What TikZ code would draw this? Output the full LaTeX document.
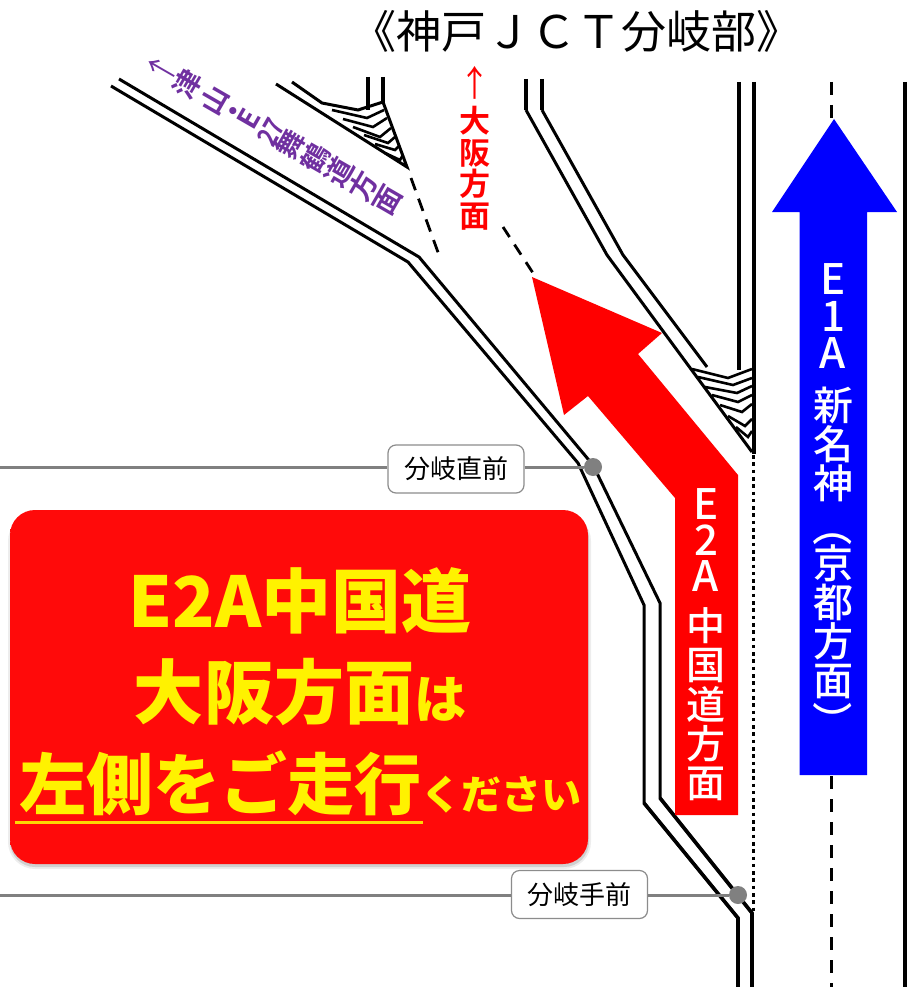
\documentclass[tikz,border=0pt]{standalone}
\usepackage{fontspec}
\usepackage{graphicx}
\newfontfamily\jp{Noto Sans CJK JP}[BoldFont={Noto Sans CJK JP Bold}]
\newfontfamily\jpmed{Noto Sans CJK JP Medium}
\newfontfamily\jpblack{Noto Sans CJK JP Black}
\newcommand{\latin}[1]{{\fontsize{42}{40}\selectfont #1}}
\definecolor{signred}{HTML}{FF0A0A}
\definecolor{purpletxt}{HTML}{7030A0}
\definecolor{gline}{HTML}{808080}
\pgfdeclareverticalshading{signshade}{100bp}{color(0bp)=(signred!75!black); color(2bp)=(signred!90!black); color(4bp)=(signred); color(94bp)=(signred); color(97bp)=(signred!88!white); color(100bp)=(signred!70!white)}
\tikzset{
  road/.style={draw=black,line width=3pt,miter limit=10},
  roadv/.style={draw=black,line width=4pt},
  chev/.style={draw=black,line width=2.6pt},
  lane/.style={draw=black,line width=3pt,dash pattern=on 13pt off 10pt},
  dotlane/.style={draw=black,line width=3.6pt,dash pattern=on 3.6pt off 3.7pt},
  leader/.style={draw=gline,line width=3pt},
  dot/.style={circle,fill=gline,minimum size=18pt,inner sep=0pt},
  tag/.style={draw=black!45,line width=1.2pt,rounded corners=8pt,fill=white,minimum width=136pt,minimum height=48pt,inner sep=0pt,font=\jp\fontsize{26}{28}\selectfont},
  stack/.style={align=center,inner sep=0pt},
}
\begin{document}
\begin{tikzpicture}[x=1pt,y=-1pt]
\useasboundingbox (0,0) rectangle (916,987);
\fill[white] (0,0) rectangle (916,987);

% title
\node[inner sep=0pt,font=\jp\fontsize{45}{48}\selectfont] (title) at (576,31) {《神戸ＪＣＴ分岐部》};

% left road
\coordinate (la1) at (111,86); \coordinate (la2) at (408,262); \coordinate (la3) at (578,463); \coordinate (la4) at (644,605); \coordinate (la5) at (644,803); \coordinate (la6) at (738,918); \coordinate (la7) at (738,987);
\coordinate (lb1) at (119,79); \coordinate (lb2) at (419,257); \coordinate (lb3) at (593,465); \coordinate (lb4) at (660,603); \coordinate (lb5) at (660,798); \coordinate (lb6) at (752,913); \coordinate (lb7) at (752,987);
\draw[road] (la1)--(la2)--(la3)--(la4)--(la5)--(la6);
\draw[road] (lb1)--(lb2)--(lb3)--(lb4)--(lb5)--(lb6);
\draw[road,line width=3.6pt] (la5)--(la6)--(la7);
\draw[road,line width=3.6pt] (lb5)--(lb6)--(lb7);

% upper-left gore
\coordinate (g1) at (276,84); \coordinate (g2) at (407,167); \coordinate (g3) at (292,82); \coordinate (g4) at (322,103); \coordinate (g5) at (358,110); \coordinate (g6) at (383,102);
\draw[road] (g1)--(g2)--(g6);
\draw[road] (g3)--(g4)--(g5)--(g6);
\draw[roadv] (368,77)--(368,110);
\draw[roadv] (383,77)--(383,104);
\draw[chev] (332,110)--(367,118)--(384,110);
\draw[chev] (343,119)--(373,127)--(387,118);
\draw[chev] (353,127)--(380,137)--(391,128);
\draw[chev] (364,135)--(388,143)--(395,137);
\draw[chev] (375,144)--(395,150)--(399,146);
\draw[chev] (385,153)--(400,160)--(403,155);

% dashed gore lines
\coordinate (d1) at (411,178); \coordinate (d2) at (439,255);
\coordinate (d3) at (503,227); \coordinate (d4) at (533,273);
\draw[lane,line width=2.8pt,dash pattern=on 13pt off 9pt] (d1)--(d2);
\draw[lane,line width=2.8pt,dash pattern=on 12pt off 9pt] (d3)--(d4);

% upper-right road
\coordinate (r1) at (526,79); \coordinate (r2) at (526,110); \coordinate (r3) at (607,255); \coordinate (r4) at (752,452);
\coordinate (s1) at (542,79); \coordinate (s2) at (542,110); \coordinate (s3) at (623,255); \coordinate (s4) at (707,367);
\draw[road] (r2)--(r3)--(r4);
\draw[road] (s2)--(s3)--(s4);
\draw[roadv] (r1)--(r2);
\draw[roadv] (s1)--(s2);

% right gore chevrons
\draw[chev] (692,369)--(728,378)--(752,369);
\draw[chev] (698,377)--(733,385)--(752,378);
\draw[chev] (705,387)--(737,393)--(752,386);
\draw[chev] (712,395)--(738,402)--(752,395);
\draw[chev] (720,405)--(742,412)--(752,404);
\draw[chev] (728,416)--(745,426)--(752,419);
\draw[chev] (736,427)--(748,437)--(752,431);

% main vertical lines
\draw[roadv] (739,82)--(739,370);
\draw[roadv] (753.5,82)--(753.5,454);
\draw[dotlane] (753.5,455)--(753.5,912);
\draw[roadv] (905,82)--(905,987);
\draw[lane] (831,82)--(831,122);
\draw[lane] (831,776)--(831,987);

% arrows
\fill[red] (532,277)--(662,333)--(638,354)--(738,475)--(738,815)--(675,815)--(675,498)--(588,396)--(564,415)--cycle;
\fill[blue] (834,119)--(897,212)--(867,212)--(867,775)--(799.5,775)--(799.5,212)--(772,212)--cycle;

% arrow labels
\node[stack,anchor=north,text=white,font=\jpmed\fontsize{39}{39.2}\selectfont] (e2a) at (706,488) {\latin{E}\\[-2.5pt]\latin{2}\\[-3.5pt]\latin{A}\\[10pt]中\\国\\道\\方\\面};
\node[stack,anchor=north,text=white,font=\jpmed\fontsize{40}{39}\selectfont] (e1a) at (833,263) {\latin{E}\\[-2pt]\latin{1}\\[-2pt]\latin{A}\\[13pt]新\\名\\神\\[5pt]\rotatebox[origin=c]{-90}{（}\\[-3pt]京\\都\\方\\面\\[3pt]\rotatebox[origin=c]{-90}{）}};

% direction labels
\node[stack,anchor=north,text=red,font=\jp\bfseries\fontsize{31}{31.5}\selectfont] (osaka) at (475,66) {{\mdseries\scalebox{1}[1.15]{↑}}\\[5pt]大\\阪\\方\\面};
\node[stack,anchor=center,rotate=60,text=purpletxt,font=\jp\bfseries\fontsize{28}{28}\selectfont] (tsuyama) at (274,134) {{\mdseries\scalebox{1}[1.15]{↑}}\\津\\[3pt]山\\[-6pt]・\\[-11pt]E\\[-2pt]\scalebox{.8}[1]{27}\\[-5pt]舞\\鶴\\道\\方\\面};

% leaders and tags
\node[dot] (p1) at (593,467) {};
\node[dot] (p2) at (738,895) {};
\node[tag] (t1) at (456,469) {分岐直前};
\node[tag] (t2) at (579.5,894.5) {分岐手前};
\coordinate (l1) at (0,467); \coordinate (l2) at (0,895);
\draw[leader] (l1)--(l1-|t1.west);
\draw[leader] (p1-|t1.east)--(p1);
\draw[leader] (l2)--(l2-|t2.west);
\draw[leader] (p2-|t2.east)--(p2);

% sign
\fill[black,opacity=.07] (8,514) [rounded corners=27pt] rectangle (591,869);
\fill[black,opacity=.12] (10,514) [rounded corners=25pt] rectangle (589,867);
\shade[shading=signshade,rounded corners=25pt] (10,510) rectangle (588,864);
\node[stack,text=yellow,font=\jpblack\fontsize{70}{91}\selectfont] (sign) at (300,692) {E2A中国道\\大阪方面{\fontsize{52}{91}\selectfont は}\\{\fontsize{67}{91}\selectfont 左側をご走行}{\fontsize{40}{91}\selectfont ください}};
\coordinate (u1) at (15,822); \coordinate (u2) at (423,822);
\draw[line width=3pt,draw=yellow!75!orange] (u1)--(u2);
\end{tikzpicture}
\end{document}
